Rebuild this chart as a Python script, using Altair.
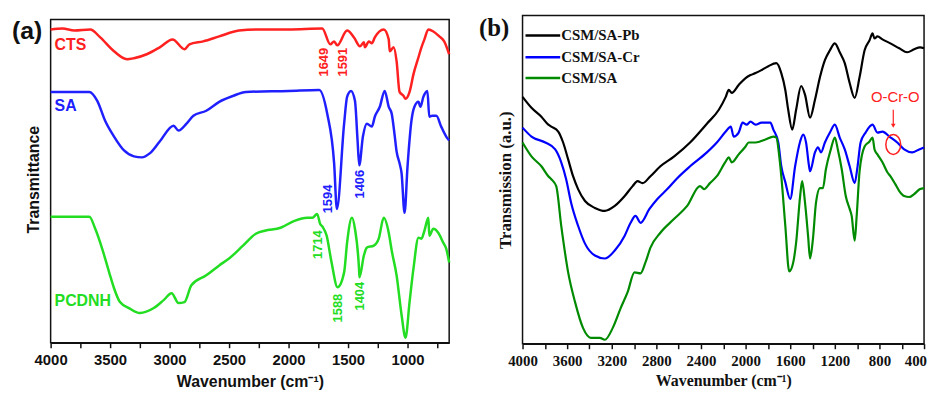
import altair as alt
import pandas as pd

# ---------------- Panel (a): (wavenumber cm-1, transmittance a.u.) ----------------
cts = [(4000, 316), (3900, 317), (3800, 315), (3667, 316), (3583, 308), (3467, 294), (3358, 286),
       (3300, 287), (3192, 291), (3083, 298), (2975, 306), (2875, 296), (2833, 301), (2717, 304),
       (2583, 309), (2417, 315), (2275, 316), (2000, 316), (1717, 317), (1649, 301), (1617, 304),
       (1591, 300), (1508, 315), (1450, 308), (1400, 299), (1367, 303), (1358, 298), (1325, 304),
       (1300, 302), (1275, 308), (1200, 316), (1158, 306), (1150, 294), (1117, 298), (1092, 284),
       (1067, 253), (1033, 249), (1017, 246), (983, 253), (950, 271), (908, 288), (883, 298),
       (858, 306), (825, 316), (783, 314), (733, 309), (692, 304), (650, 291)]

sa = [(4000, 253), (3675, 253), (3608, 244), (3542, 224), (3467, 208), (3383, 194), (3300, 188),
      (3233, 187), (3167, 191), (3083, 203), (2967, 219), (2925, 214), (2858, 221), (2800, 229),
      (2692, 234), (2583, 243), (2467, 249), (2358, 253), (2000, 254), (1742, 255), (1675, 231),
      (1617, 181), (1594, 135), (1533, 221), (1508, 248), (1475, 254), (1442, 244), (1420, 204),
      (1406, 179), (1375, 208), (1342, 221), (1300, 218), (1275, 228), (1233, 238), (1192, 254),
      (1158, 238), (1133, 231), (1108, 209), (1092, 193), (1067, 181), (1050, 171), (1025, 131),
      (1000, 178), (967, 224), (942, 238), (908, 243), (892, 238), (867, 248), (833, 254),
      (817, 228), (792, 229), (758, 229), (717, 218), (675, 208), (650, 204)]

pcdnh = [(4000, 127), (3675, 127), (3625, 115), (3567, 95), (3508, 71), (3467, 55), (3417, 41),
         (3342, 35), (3250, 30), (3133, 35), (3050, 43), (2983, 50), (2925, 40), (2875, 41),
         (2817, 58), (2692, 68), (2583, 78), (2500, 85), (2383, 98), (2275, 110), (2200, 113),
         (2067, 116), (1950, 123), (1842, 126), (1800, 126), (1760, 130), (1735, 120), (1714, 117),
         (1680, 108), (1640, 82), (1588, 56), (1533, 71), (1508, 101), (1467, 126), (1442, 115),
         (1408, 75), (1404, 66), (1367, 88), (1342, 96), (1283, 98), (1242, 105), (1200, 126),
         (1158, 111), (1133, 93), (1092, 68), (1050, 28), (1017, 5), (983, 41), (950, 75),
         (908, 106), (883, 105), (858, 113), (825, 126), (817, 108), (783, 115), (742, 111),
         (700, 101), (675, 95), (650, 81)]

series_a = ["CTS", "SA", "PCDNH"]
colors_a = ["#ff2020", "#2020ff", "#22dd22"]

peak_text_a = ["1649", "1591", "1594", "1406", "1714", "1588", "1404"]
peak_wn_a = [1700, 1542, 1667, 1400, 1750, 1583, 1400]
peak_t_a = [283, 283, 145, 160, 99, 35, 47]
peak_series_a = ["CTS", "CTS", "SA", "SA", "PCDNH", "PCDNH", "PCDNH"]

name_wn_a = [3967, 3967, 3967]
name_t_a = [300, 239, 42]

# ---------------- Panel (b) ----------------
pb = [(4000, 249), (3920, 238), (3831, 229), (3769, 221), (3742, 219), (3680, 214), (3636, 203),
      (3591, 186), (3547, 169), (3502, 156), (3440, 144), (3351, 137), (3262, 134), (3173, 139),
      (3084, 149), (3013, 159), (2969, 164), (2924, 162), (2853, 169), (2764, 179), (2640, 189),
      (2498, 203), (2347, 222), (2240, 236), (2178, 249), (2151, 256), (2124, 253), (2062, 261),
      (2000, 268), (1956, 271), (1911, 273), (1858, 276), (1796, 280), (1724, 283), (1680, 273),
      (1644, 256), (1618, 236), (1582, 216), (1547, 236), (1502, 260), (1467, 251), (1422, 228),
      (1378, 246), (1333, 269), (1289, 286), (1244, 296), (1200, 303), (1156, 294), (1111, 283),
      (1067, 263), (1022, 248), (978, 269), (933, 296), (889, 306), (862, 313), (844, 308),
      (818, 310), (773, 307), (702, 303), (622, 298), (551, 294), (489, 297), (436, 299), (400, 298)]

cr = [(4000, 218), (3920, 209), (3796, 203), (3707, 196), (3653, 183), (3609, 166), (3564, 142),
      (3502, 119), (3440, 101), (3351, 89), (3262, 86), (3173, 94), (3084, 109), (3031, 122),
      (2987, 129), (2942, 122), (2862, 136), (2791, 146), (2702, 156), (2613, 167), (2498, 179),
      (2347, 193), (2258, 203), (2178, 214), (2133, 219), (2107, 209), (2062, 213), (2027, 223),
      (1991, 221), (1956, 224), (1911, 221), (1858, 223), (1778, 223), (1751, 216), (1707, 203),
      (1680, 179), (1644, 163), (1600, 146), (1556, 179), (1511, 204), (1484, 211), (1458, 203),
      (1431, 179), (1422, 174), (1378, 193), (1351, 198), (1324, 193), (1289, 203), (1244, 213),
      (1200, 221), (1156, 208), (1111, 196), (1067, 179), (1022, 162), (996, 179), (969, 203),
      (924, 213), (862, 221), (818, 213), (773, 214), (711, 209), (640, 203), (578, 196),
      (507, 193), (444, 196), (400, 198)]

csm = [(4000, 203), (3920, 189), (3831, 179), (3769, 169), (3742, 166), (3698, 159), (3653, 119),
       (3591, 72), (3529, 42), (3458, 16), (3387, 6), (3307, 6), (3262, 4), (3191, 16), (3120, 36),
       (3058, 52), (2996, 72), (2942, 71), (2898, 82), (2853, 97), (2764, 112), (2640, 126),
       (2524, 139), (2409, 159), (2373, 156), (2320, 162), (2258, 169), (2178, 184), (2151, 188),
       (2124, 183), (2062, 191), (2000, 199), (1973, 203), (1911, 203), (1822, 206), (1751, 209),
       (1724, 208), (1698, 189), (1680, 169), (1644, 119), (1609, 73), (1573, 82), (1547, 102),
       (1511, 149), (1493, 164), (1467, 142), (1440, 109), (1422, 86), (1396, 106), (1369, 142),
       (1333, 157), (1307, 157), (1280, 176), (1236, 196), (1200, 208), (1173, 196), (1138, 176),
       (1102, 149), (1067, 136), (1049, 129), (1022, 104), (1004, 129), (978, 174), (933, 199),
       (889, 204), (862, 208), (844, 196), (818, 191), (773, 183), (729, 173), (702, 169),
       (658, 161), (622, 154), (578, 149), (533, 148), (489, 151), (436, 156), (400, 157)]

series_b = ["CSM/SA-Pb", "CSM/SA-Cr", "CSM/SA"]
colors_b = ["#000000", "#0000ff", "#008a00"]

ocro_text_wn, ocro_text_t = 658, 249
ocro_arrow_wn, ocro_arrow_t1, ocro_arrow_t2 = 676, 236, 220
ocro_circle_wn, ocro_circle_t = 676, 201

# ---------------- helpers ----------------
def frame(pairs, name):
    return pd.DataFrame(pairs, columns=["wn", "t"]).assign(series=name)

one = pd.DataFrame({"k": [0]})
INK = "#111111"

# ================= Panel (a) =================
SANS = "Liberation Sans"
WA, HA = 402, 330
df_a = pd.concat([frame(cts, "CTS"), frame(sa, "SA"), frame(pcdnh, "PCDNH")])
col_a = alt.Scale(domain=series_a, range=colors_a)

xa = alt.X("wn:Q",
           scale=alt.Scale(domain=[650, 4000], reverse=True, nice=False, zero=False),
           axis=alt.Axis(values=list(range(4000, 700, -250)),
                         labelExpr="datum.value % 500 == 0 ? datum.label : ''",
                         format="d", title="Wavenumber (cm⁻¹)", grid=False,
                         tickSize=5, tickWidth=1.5, tickColor=INK, domainColor=INK, domainWidth=1.5,
                         labelFont=SANS, labelFontWeight="bold", labelFontSize=15, labelColor=INK,
                         labelPadding=5, labelFlush=False,
                         titleFont=SANS, titleFontWeight="bold", titleFontSize=16, titleColor=INK,
                         titlePadding=6))
ya = alt.Y("t:Q", scale=alt.Scale(domain=[0, HA], nice=False, zero=False),
           axis=alt.Axis(labels=False, ticks=False, domain=False, grid=False, title="Transmittance",
                         titleFont=SANS, titleFontWeight="bold", titleFontSize=16, titleColor=INK,
                         titlePadding=9))

box_a = alt.Chart(one).mark_rect(fillOpacity=0, stroke=INK, strokeWidth=1.5).encode(
    x=alt.value(0), x2=alt.value(WA), y=alt.value(4), y2=alt.value(HA))

lines_a = alt.Chart(df_a).mark_line(strokeWidth=2.5, interpolate="monotone").encode(
    x=xa, y=ya, color=alt.Color("series:N", scale=col_a, legend=None))

peaks_a = alt.Chart(pd.DataFrame({"wn": peak_wn_a, "t": peak_t_a, "label": peak_text_a,
                                  "series": peak_series_a})).mark_text(
    angle=270, font=SANS, fontSize=13, fontWeight="bold").encode(
    x=xa, y=ya, text="label:N", color=alt.Color("series:N", scale=col_a, legend=None))

names_a = alt.Chart(pd.DataFrame({"wn": name_wn_a, "t": name_t_a, "series": series_a})).mark_text(
    align="left", baseline="middle", font=SANS, fontSize=16, fontWeight="bold").encode(
    x=xa, y=ya, text="series:N", color=alt.Color("series:N", scale=col_a, legend=None))

tag_a = alt.Chart(one).mark_text(text="(a)", align="left", baseline="middle", font=SANS,
                                 fontSize=25, fontWeight="bold", color=INK).encode(
    x=alt.value(-39), y=alt.value(16))

panel_a = alt.layer(box_a, lines_a, peaks_a, names_a, tag_a).properties(
    width=WA, height=HA, view=alt.ViewBackground(stroke=None))

# ================= Panel (b) =================
SERIF = "Liberation Serif"
WB, HB = 405, 331
df_b = pd.concat([frame(pb, "CSM/SA-Pb"), frame(cr, "CSM/SA-Cr"), frame(csm, "CSM/SA")])
col_b = alt.Scale(domain=series_b, range=colors_b)

xb = alt.X("wn:Q",
           scale=alt.Scale(domain=[400, 4000], reverse=True, nice=False, zero=False),
           axis=alt.Axis(values=list(range(4000, 399, -200)),
                         labelExpr="datum.value % 400 == 0 && datum.value > 400 ? datum.label : ''",
                         format="d", title="Wavenumber (cm⁻¹)", grid=False,
                         tickSize=5, tickWidth=1.5, tickColor=INK, domainColor=INK, domainWidth=1.5,
                         labelFont=SERIF, labelFontWeight="bold", labelFontSize=15, labelColor=INK,
                         labelPadding=5, labelFlush=False,
                         titleFont=SERIF, titleFontWeight="bold", titleFontSize=16, titleColor=INK,
                         titlePadding=4))
yb = alt.Y("t:Q", scale=alt.Scale(domain=[0, HB], nice=False, zero=False),
           axis=alt.Axis(labels=False, ticks=False, domain=False, grid=False,
                         title="Transmission (a.u.)",
                         titleFont=SERIF, titleFontWeight="bold", titleFontSize=17, titleColor=INK,
                         titlePadding=8))

lines_b = alt.Chart(df_b).mark_line(strokeWidth=2.2, interpolate="monotone").encode(
    x=xb, y=yb, color=alt.Color("series:N", scale=col_b, legend=None))

# last tick label drawn separately so it stays inside the page
last_label_b = alt.Chart(one).mark_text(text="400", align="right", baseline="top", font=SERIF,
                                        fontSize=15, fontWeight="bold", color=INK).encode(
    x=alt.value(WB + 3), y=alt.value(HB + 10))

legend_y = [20, 42, 63]
legend_layers = []
for name, colr, ly in zip(series_b, colors_b, legend_y):
    legend_layers.append(alt.Chart(one).mark_rule(strokeWidth=2.5, color=colr).encode(
        x=alt.value(3), x2=alt.value(38), y=alt.value(ly)))
    legend_layers.append(alt.Chart(one).mark_text(text=name, align="left", baseline="middle",
                                                  font=SERIF, fontSize=15, fontWeight="bold",
                                                  color=INK).encode(
        x=alt.value(39), y=alt.value(ly)))

ocro_label = alt.Chart(pd.DataFrame({"wn": [ocro_text_wn], "t": [ocro_text_t]})).mark_text(
    text="O-Cr-O", font=SANS, fontSize=15, color="#ff2020", baseline="middle").encode(x=xb, y=yb)
ocro_arrow = alt.Chart(pd.DataFrame({"wn": [ocro_arrow_wn], "t": [ocro_arrow_t1],
                                     "t2": [ocro_arrow_t2]})).mark_rule(
    color="#ff2020", strokeWidth=1.2).encode(x=xb, y=yb, y2="t2:Q")
ocro_head = alt.Chart(pd.DataFrame({"wn": [ocro_arrow_wn], "t": [ocro_arrow_t2]})).mark_point(
    shape="triangle-down", filled=True, color="#ff2020", size=22, opacity=1).encode(x=xb, y=yb)
ocro_ring = alt.Chart(pd.DataFrame({"wn": [ocro_circle_wn], "t": [ocro_circle_t]})).mark_point(
    shape="M -0.75 0 A 0.75 1 0 1 0 0.75 0 A 0.75 1 0 1 0 -0.75 0 Z",
    filled=False, color="#ff2020", size=400, strokeWidth=1.5, opacity=1).encode(x=xb, y=yb)

tag_b = alt.Chart(one).mark_text(text="(b)", align="left", baseline="middle", font=SERIF,
                                 fontSize=25, fontWeight="bold", color=INK).encode(
    x=alt.value(-44), y=alt.value(13))

panel_b = alt.layer(lines_b, last_label_b, *legend_layers, ocro_label, ocro_arrow, ocro_head,
                    ocro_ring, tag_b).properties(width=WB, height=HB)

chart = alt.hconcat(panel_a, panel_b, spacing=24).resolve_scale(
    color="independent"
).properties(
    padding={"left": 4, "top": 5, "right": 0, "bottom": 0}
).configure_view(stroke=INK, strokeWidth=1.5)

chart.save("out.html", embed_options={"renderer": "svg", "actions": False})
